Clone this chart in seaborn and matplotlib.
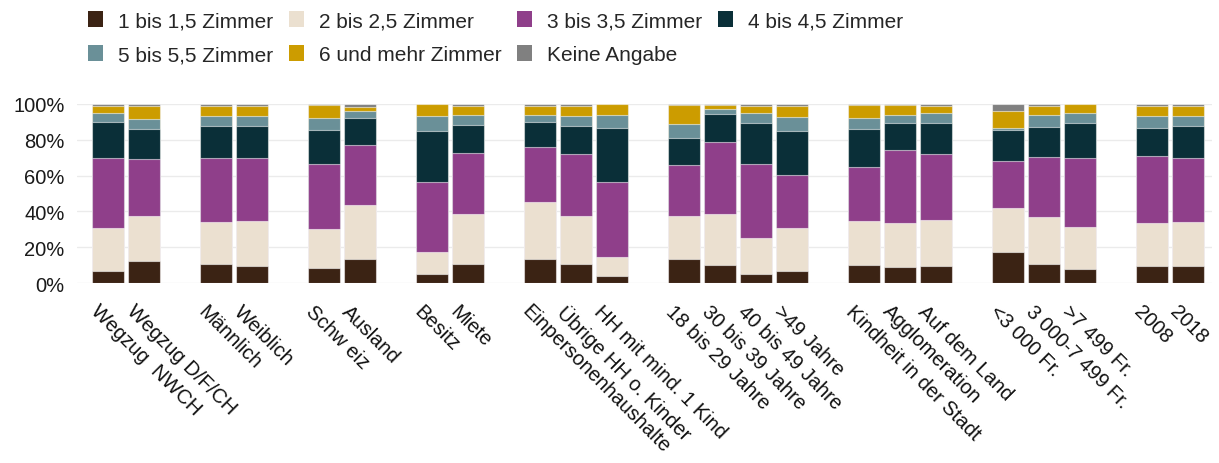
import matplotlib
matplotlib.use("Agg")
import matplotlib.pyplot as plt
import matplotlib.transforms as mtransforms
import seaborn as sns
import pandas as pd
import numpy as np
from matplotlib.patches import Patch

categories = ["Wegzug  NWCH", "Wegzug D/F/CH", None, "Männlich", "Weiblich", None,
              "Schw eiz", "Ausland", None, "Besitz", "Miete", None,
              "Einpersonenhaushalte", "Übrige HH o. Kinder", "HH mit mind. 1 Kind", None,
              "18 bis 29 Jahre", "30 bis 39 Jahre", "40 bis 49 Jahre", ">49 Jahre", None,
              "Kindheit in der Stadt", "Agglomeration", "Auf dem Land", None,
              "<3 000 Fr.", "3 000-7 499 Fr.", ">7 499 Fr.", None,
              "2008", "2018"]

series = ["1 bis 1,5 Zimmer", "2 bis 2,5 Zimmer", "3 bis 3,5 Zimmer", "4 bis 4,5 Zimmer",
          "5 bis 5,5 Zimmer", "6 und mehr Zimmer", "Keine Angabe"]
colors = ["#3b2314", "#ebe0d0", "#8f3f8a", "#0a2f38", "#6a9098", "#cc9c00", "#808080"]

zimmer_1 = [6.5, 12.5, 10.8, 9.3, 8.2, 13.6, 5.0, 10.8, 13.2, 10.6, 4.1, 13.4, 10.1, 5.0, 6.9, 10.2, 8.8, 9.5, 17.3, 10.4, 7.6, 9.5, 9.5]
zimmer_2 = [24.0, 24.7, 23.5, 25.5, 22.2, 30.2, 12.1, 27.6, 32.2, 26.8, 10.2, 24.2, 28.3, 20.0, 23.6, 24.4, 24.7, 25.9, 24.8, 26.7, 23.7, 24.0, 24.8]
zimmer_3 = [39.5, 31.9, 35.3, 35.2, 35.9, 33.5, 39.5, 34.2, 30.8, 34.7, 42.3, 28.3, 40.6, 41.5, 29.6, 30.2, 40.6, 36.5, 26.1, 33.3, 38.5, 37.3, 35.3]
zimmer_4 = [20.0, 16.7, 18.3, 17.5, 19.4, 15.1, 28.5, 15.9, 13.9, 15.6, 29.8, 15.3, 15.2, 23.1, 24.6, 21.4, 15.1, 17.5, 17.3, 16.8, 19.4, 15.6, 18.3]
zimmer_5 = [5.2, 5.8, 5.4, 5.6, 6.3, 3.9, 8.4, 5.2, 3.6, 5.6, 7.5, 7.6, 3.0, 5.2, 8.0, 6.0, 4.8, 5.4, 0.9, 6.8, 5.8, 7.1, 5.4]
zimmer_6 = [3.9, 7.5, 5.8, 6.0, 7.4, 2.2, 6.5, 5.4, 5.0, 5.8, 6.1, 10.6, 2.2, 4.3, 6.4, 7.2, 5.3, 3.9, 9.9, 5.1, 5.0, 5.6, 5.8]
keine = [0.9, 0.9, 0.9, 0.9, 0.6, 1.5, 0.0, 0.9, 1.3, 0.9, 0.0, 0.6, 0.6, 0.9, 0.9, 0.6, 0.7, 1.3, 3.7, 0.9, 0.0, 0.9, 0.9]

yticks = [0, 20, 40, 60, 80, 100]
ytick_labels = ["0%", "20%", "40%", "60%", "80%", "100%"]

# order with unique blank placeholders for gaps
order = []
gap = 0
for c in categories:
    if c is None:
        gap += 1
        order.append(" " * gap)
    else:
        order.append(c)
real_cats = [c for c in categories if c is not None]

values = np.array([zimmer_1, zimmer_2, zimmer_3, zimmer_4, zimmer_5, zimmer_6, keine])
tot = values.sum(axis=0)
values = values / tot * 100
cum = np.cumsum(values, axis=0)

rows = []
for si, s in enumerate(series):
    for ci, c in enumerate(real_cats):
        rows.append({"Kategorie": c, "Serie": s, "cum": cum[si, ci]})
df = pd.DataFrame(rows)

sns.set_theme(style="white")
plt.rcParams["font.family"] = ["Liberation Sans", "DejaVu Sans"]

fig = plt.figure(figsize=(12.19, 4.64), dpi=100)
ax = fig.add_axes([77 / 1219, 180 / 464, 1135 / 1219, 179 / 464])

for si in range(len(series) - 1, -1, -1):
    sub = df[df["Serie"] == series[si]]
    sns.barplot(data=sub, x="Kategorie", y="cum", order=order, color=colors[si],
                saturation=1, width=0.89, edgecolor=(1, 1, 1, 0.55), linewidth=0.8,
                ax=ax, errorbar=None)

ax.set_ylim(0, 100)
ax.set_xlim(-0.86, len(order) - 1 + 0.67)
ax.set_yticks(yticks)
ax.set_yticklabels(ytick_labels, fontsize=14.5, color="#1a1a1a")
ax.yaxis.grid(True, color="#ebebeb", linewidth=1)
ax.set_axisbelow(True)
for sp in ax.spines.values():
    sp.set_visible(False)
ax.set_xlabel("")
ax.set_ylabel("")
ax.tick_params(axis="y", length=0, pad=9)
ax.tick_params(axis="x", length=0, pad=0)
ax.set_xticks(range(len(order)))
ax.set_xticklabels(order, rotation=-45, ha="left", va="top", rotation_mode="anchor",
                   fontsize=14.5, color="#111111")
off = mtransforms.ScaledTranslation(-8 / 100, -18 / 100, fig.dpi_scale_trans)
for lab in ax.get_xticklabels():
    lab.set_transform(lab.get_transform() + off)

idx = [0, 4, 1, 5, 2, 6, 3]
handles = [Patch(facecolor=colors[i], edgecolor="none", label=series[i]) for i in idx]
fig.legend(handles=handles, loc="upper left", bbox_to_anchor=(80 / 1219, 1 - 4 / 464), ncol=4,
           frameon=False, fontsize=15, handlelength=0.72, handleheight=0.78,
           handletextpad=0.72, columnspacing=0.75, labelspacing=0.72, borderaxespad=0)

fig.savefig("out.png", dpi=100)
